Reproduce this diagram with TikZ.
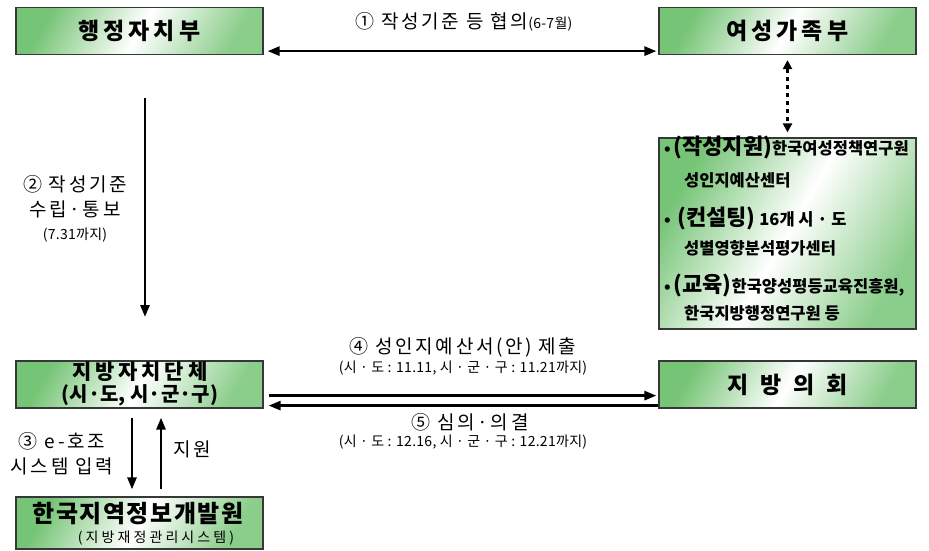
\documentclass[tikz,border=0pt]{standalone}
\usepackage{fontspec}
\setmainfont{Noto Sans CJK KR}
\usetikzlibrary{arrows.meta,calc}
\definecolor{gr}{RGB}{118,196,118}
\definecolor{bd}{RGB}{55,55,55}
\newcommand{\hdr}[1]{{\fontsize{23}{24}\selectfont\bfseries\addfontfeature{LetterSpace=17}#1}}
\newcommand{\lbl}[1]{{\fontsize{19}{21}\selectfont\addfontfeature{LetterSpace=14}#1}}
\newcommand{\sml}[1]{{\fontsize{14}{15}\selectfont\addfontfeature{LetterSpace=2}#1}}
\newcommand{\rbig}[1]{{\fontsize{22}{23}\selectfont\bfseries #1}}
\newcommand{\rtx}[1]{{\fontsize{16.5}{17}\selectfont\bfseries #1}}
\begin{document}
\begin{tikzpicture}[x=1pt,y=-1pt,
  box/.style={draw=bd,line width=1.2pt,left color=gr,right color=gr!85,middle color=white,shading angle=60,inner sep=0pt,align=center},
  arr/.style={line width=2.6pt,-{Triangle[length=12pt,width=9pt]}},
  darr/.style={line width=2.6pt,{Triangle[length=12pt,width=9pt]}-{Triangle[length=12pt,width=9pt]}},
  dotarr/.style={line width=2.6pt,dash pattern=on 4pt off 4pt,{Triangle[length=9pt,width=9pt]}-{Triangle[length=9pt,width=9pt]}},
  txt/.style={inner sep=0pt,align=center}]
\useasboundingbox (0,0) rectangle (929,550);
% boxes
\node[box,minimum width=247pt,minimum height=47pt] (hj) at (139.5,31) {\hdr{행정자치부}};
\node[box,minimum width=257pt,minimum height=47pt] (yg) at (787.5,31) {\hdr{여성가족부}};
\node[box,minimum width=257pt,minimum height=191pt] (rb) at (787.5,233.5) {};
\node[box,minimum width=247pt,minimum height=47pt] (jj) at (139.5,384.5) {};
\node[box,minimum width=257pt,minimum height=47pt] (jh) at (787.5,384.5) {\hdr{지\hspace{12pt}방\hspace{12pt}의\hspace{12pt}회}};
\node[box,minimum width=247pt,minimum height=52pt] (kr) at (139.5,523) {};
% box texts
\node[txt] (jj1) at (140,372) {{\fontsize{21}{22}\selectfont\bfseries\addfontfeature{LetterSpace=18}지방자치단체}};
\node[txt] (jj2) at (140,395) {{\fontsize{20}{21}\selectfont\bfseries (시·도,\ 시·군·구)}};
\node[txt] (kr1) at (138,514) {{\fontsize{24}{25}\selectfont\bfseries\addfontfeature{LetterSpace=6}한국지역정보개발원}};
\node[txt] (kr2) at (156,538) {{\fontsize{14}{15}\selectfont\addfontfeature{LetterSpace=22}(지방재정관리시스템)}};
% right box lines
\node[txt,anchor=west] (r1) at (664,147) {\rtx{•\,}\rbig{(작성지원)}\rtx{한국여성정책연구원}};
\node[txt,anchor=west] (r2) at (684,180) {\rtx{성인지예산센터}};
\node[txt,anchor=west] (r3) at (664,218) {\rtx{•\ \,}\rbig{(컨설팅)}\rtx{ 16개 시 · 도}};
\node[txt,anchor=west] (r4) at (684,248) {\rtx{성별영향분석평가센터}};
\node[txt,anchor=west] (r5) at (664,285) {\rtx{•\,}\rbig{(교육)}\rtx{한국양성평등교육진흥원,}};
\node[txt,anchor=west] (r6) at (684,313) {\rtx{한국지방행정연구원 등}};
% connectors
\draw[darr,shorten <=4pt,shorten >=2pt] ([yshift=4pt]hj.south east) -- ([yshift=4pt]yg.south west);
\draw[dotarr,shorten <=5pt,shorten >=5pt] (yg.south) -- (rb.north);
\coordinate (c2s) at (145,98);
\coordinate (c2e) at (145,317);
\draw[arr] (c2s) -- (c2e);
\draw[arr,shorten <=5pt,shorten >=2pt] ([yshift=13pt]jj.south east) -- ([yshift=13pt]jh.south west);
\draw[arr,shorten >=5pt] ([yshift=3pt]jh.south west) -- ([yshift=3pt]jj.south east);
\draw[arr,shorten <=9pt,shorten >=7pt] (jj.south -| 132,0) -- (kr.north -| 132,0);
\draw[arr,shorten <=7pt,shorten >=9pt] (kr.north -| 161,0) -- (jj.south -| 161,0);
% labels
\node[txt] (l1) at (464,22) {\lbl{① 작성기준 등 협의}\sml{(6-7월)}};
\node[txt] (l2a) at (75,184) {\lbl{② 작성기준}};
\node[txt] (l2b) at (75,209) {\lbl{수립·통보}};
\node[txt] (l2c) at (75,235) {\sml{(7.31까지)}};
\node[txt] (l3a) at (62,441) {\lbl{③ e-호조}};
\node[txt] (l3b) at (62,466) {\lbl{시스템 입력}};
\node[txt] (l3c) at (192,449) {\lbl{지원}};
\node[txt] (l4a) at (463,347) {\lbl{④ 성인지예산서(안) 제출}};
\node[txt] (l4b) at (463,368) {\sml{(시 · 도 : 11.11, 시 · 군 · 구 : 11.21까지)}};
\node[txt] (l5a) at (470,422) {\lbl{⑤ 심의·의결}};
\node[txt] (l5b) at (463,442) {\sml{(시 · 도 : 12.16, 시 · 군 · 구 : 12.21까지)}};
\end{tikzpicture}
\end{document}
